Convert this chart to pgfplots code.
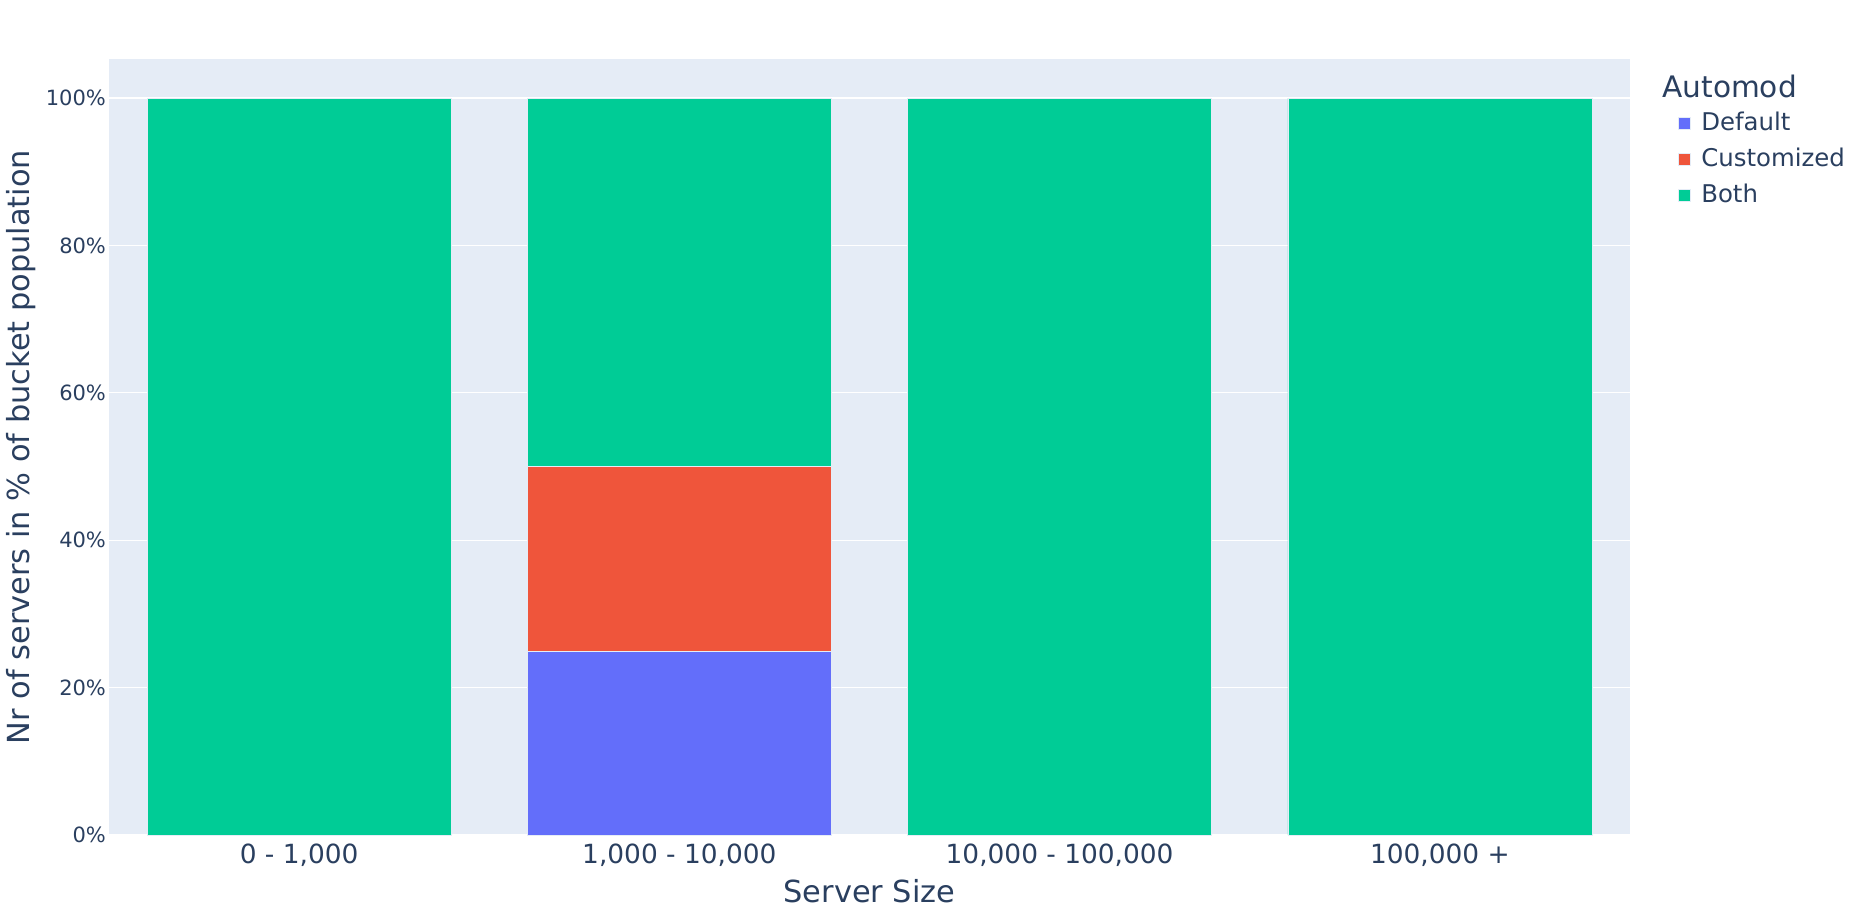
\documentclass[border=0pt]{standalone}
\usepackage{pgfplots}
\pgfplotsset{compat=1.18}
\usepackage{fontspec}
\setmainfont{DejaVu Sans}
\definecolor{bg}{HTML}{E5ECF6}
\definecolor{txt}{HTML}{2A3F5F}
\definecolor{cdef}{HTML}{636EFA}
\definecolor{ccus}{HTML}{EF553B}
\definecolor{cboth}{HTML}{00CC96}
\begin{document}
\begin{tikzpicture}
\begin{axis}[
    scale only axis, clip=false,
    width=760.5pt, height=388pt,
    ybar stacked, bar width=0.8,
    xmin=-0.5, xmax=3.5, ymin=0, ymax=105.3,
    axis background/.style={fill=bg},
    axis line style={draw=none},
    major tick length=0pt,
    xtick=data,
    xticklabels={{0 - 1,000}, {1,000 - 10,000}, {10,000 - 100,000}, {100,000 +}},
    xticklabel style={font=\fontsize{13.2}{15}\selectfont, text=txt, yshift=-1pt},
    ytick={0,20,40,60,80,100},
    yticklabels={0\%,20\%,40\%,60\%,80\%,100\%},
    yticklabel style={font=\fontsize{10.5}{12}\selectfont, text=txt, xshift=2pt},
    ymajorgrids, grid style={white, line width=0.6pt},
    xlabel={Server Size}, ylabel={Nr of servers in \% of bucket population},
    label style={font=\fontsize{15.2}{18}\selectfont, text=txt},
    xlabel style={at={(axis description cs:0.5,-0.0722)}, anchor=center},
    ylabel style={at={(axis description cs:-0.0579,0.5)}, anchor=center},
    legend style={at={(rel axis cs:1,1)}, anchor=north west, xshift=20.9pt, yshift=-23.8pt,
        draw=none, fill=none, font=\fontsize{12.2}{14}\selectfont, text=txt,
        nodes={inner sep=0pt, text height=10pt, text depth=2.5pt},
        row sep=5.5pt, /tikz/every odd column/.append style={column sep=5.3pt}},
    legend cell align=left,
    legend image code/.code={\fill[#1] (0pt,-2.8pt) rectangle (6pt,3.2pt);},
]
\addplot[fill=cdef, draw=bg, line width=0.25pt] coordinates {(0,0) (1,25) (2,0) (3,0)};
\addplot[fill=ccus, draw=bg, line width=0.25pt] coordinates {(0,0) (1,25) (2,0) (3,0)};
\addplot[fill=cboth, draw=bg, line width=0.25pt] coordinates {(0,100) (1,50) (2,100) (3,100)};
\legend{Default, Customized, Both}
\node[anchor=west, text=txt, font=\fontsize{14.8}{17}\selectfont, inner sep=0pt] at (rel axis cs:1,1) [xshift=16pt, yshift=-13.7pt] {Automod};
\end{axis}
\pgfresetboundingbox
\path[use as bounding box] (-54.5pt,-40.5pt) rectangle (877pt,417.5pt);
\end{tikzpicture}
\end{document}
